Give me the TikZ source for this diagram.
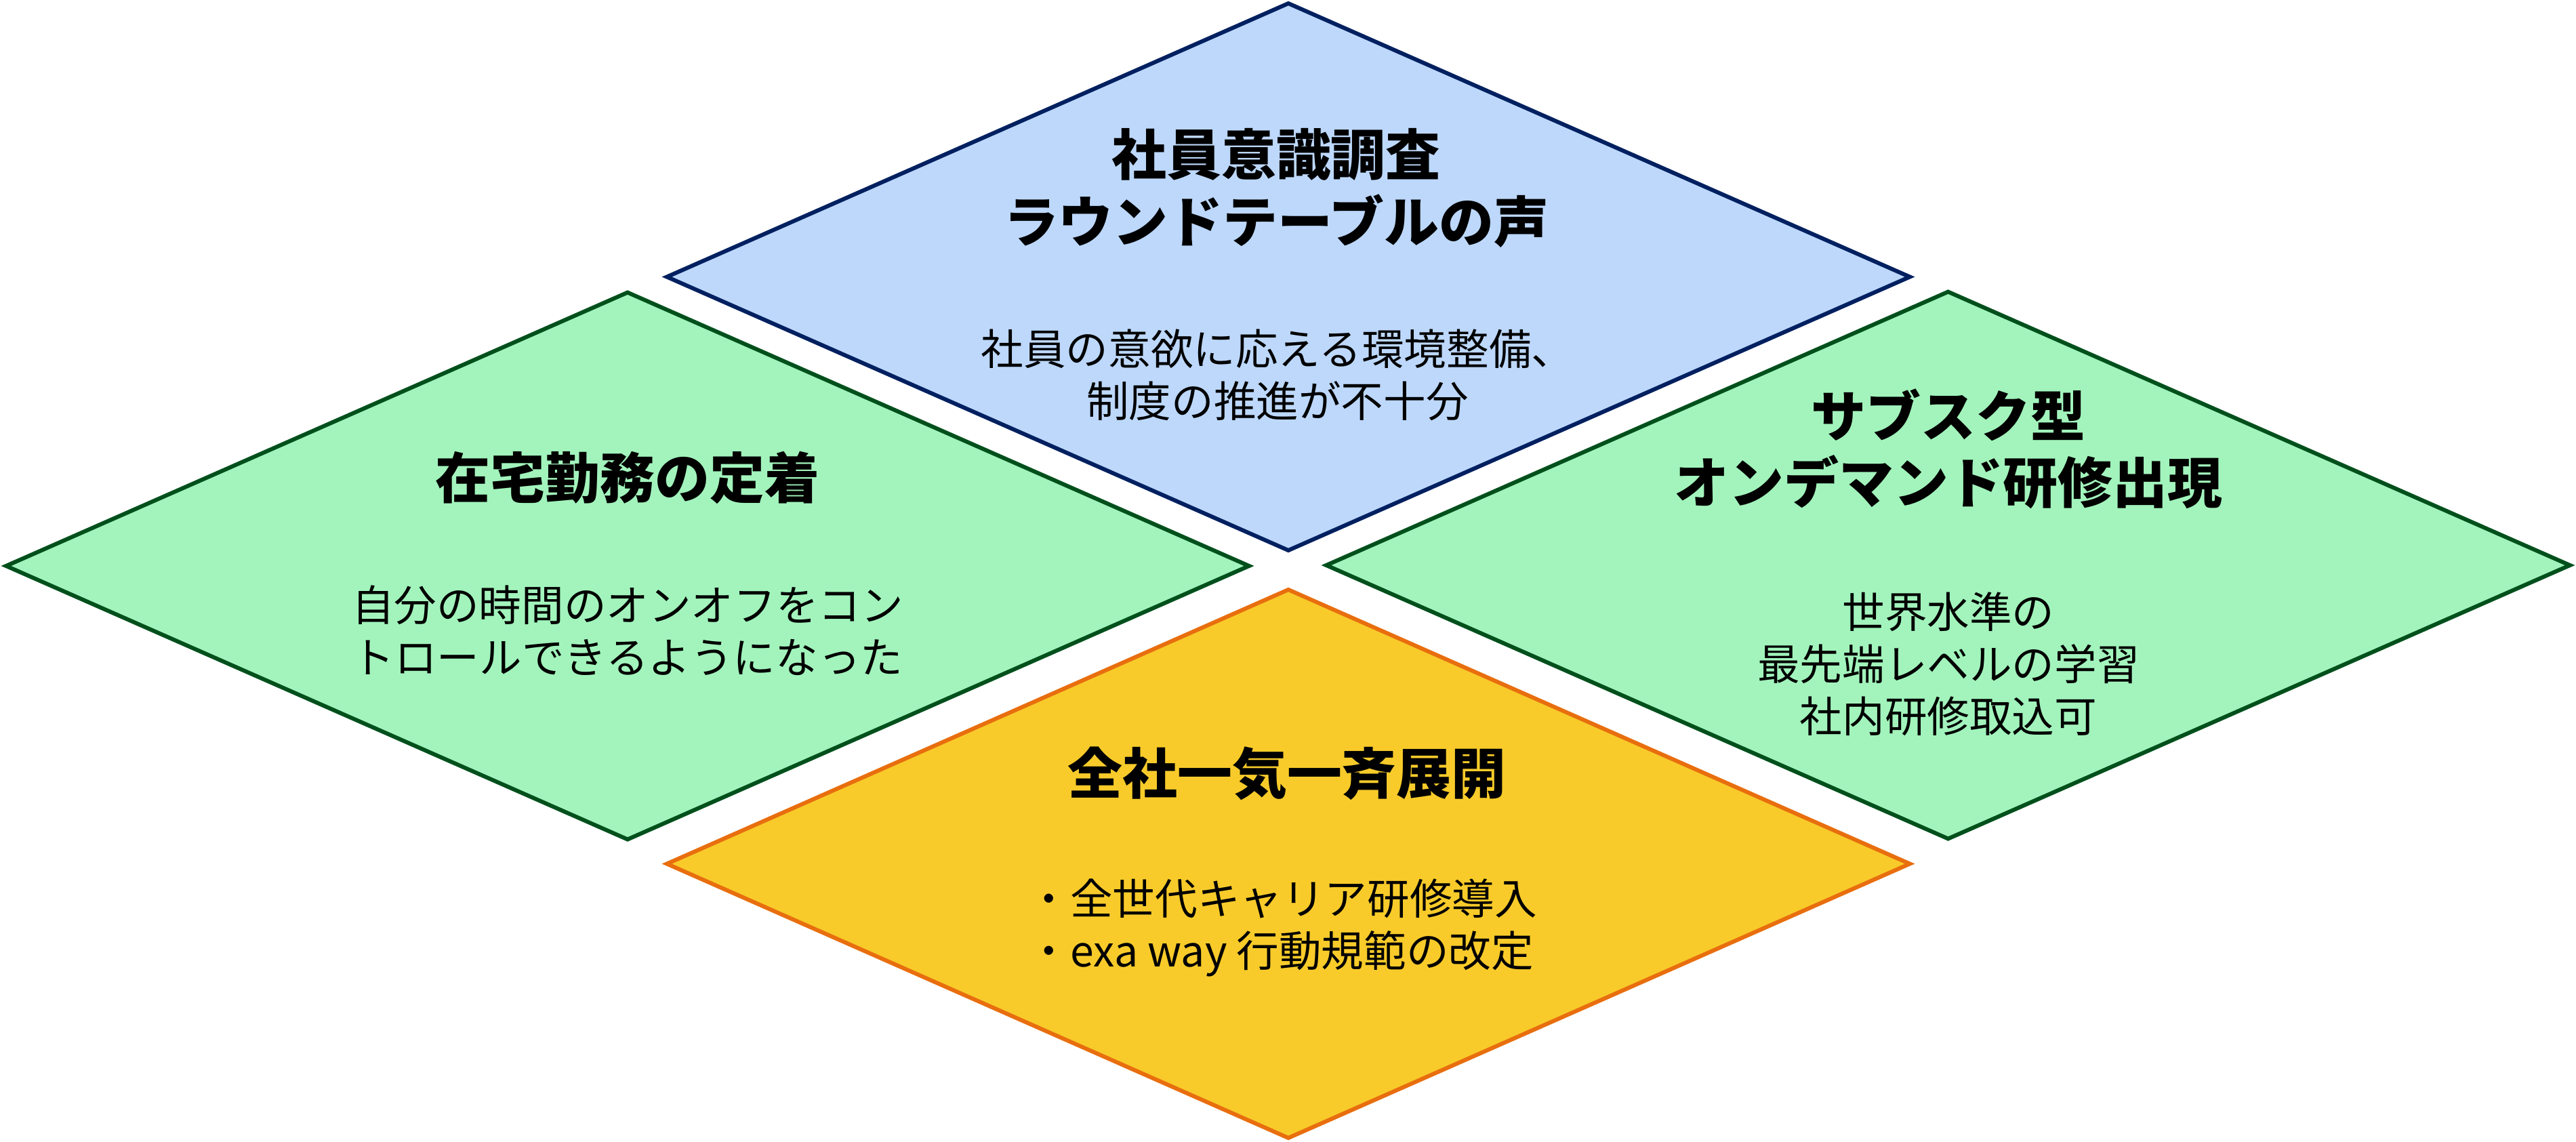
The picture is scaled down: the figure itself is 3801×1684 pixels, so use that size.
\documentclass[tikz,border=0pt]{standalone}
\usepackage{fontspec}
\setmainfont{Noto Sans CJK JP}
\definecolor{bluefill}{RGB}{189,216,251}
\definecolor{blueline}{RGB}{0,32,96}
\definecolor{greenfill}{RGB}{162,244,188}
\definecolor{greenline}{RGB}{0,80,28}
\definecolor{yellowfill}{RGB}{248,203,42}
\definecolor{orangeline}{RGB}{232,110,14}
\begin{document}
\begin{tikzpicture}[x=0.01cm,y=-0.01cm,
  dia/.style={line width=1.7pt, line join=miter},
  ttl/.style={font=\bfseries\fontsize{23pt}{27.9pt}\selectfont, align=center, inner sep=0pt},
  bdy/.style={font=\fontsize{17.8pt}{21.9pt}\selectfont, align=center, inner sep=0pt}]
\useasboundingbox (0,0) rectangle (3801,1684);
% top diamond
\draw[dia, draw=blueline, fill=bluefill] (1901,5) -- (2818,408.5) -- (1901,812) -- (984,408.5) -- cycle;
% left diamond
\draw[dia, draw=greenline, fill=greenfill] (926,431.5) -- (1843,835) -- (926,1238.5) -- (9,835) -- cycle;
% right diamond
\draw[dia, draw=greenline, fill=greenfill] (2874.5,430.5) -- (3792,834) -- (2874.5,1237.5) -- (1957,834) -- cycle;
% bottom diamond
\draw[dia, draw=orangeline, fill=yellowfill] (1901,870) -- (2818,1274.5) -- (1901,1679) -- (984,1274.5) -- cycle;
% texts
\node[ttl] (t1) at (1883,277.5) {社員意識調査\\ラウンドテーブルの声};
\node[bdy] (b1) at (1885,553.5) {社員の意欲に応える環境整備、\\制度の推進が不十分};
\node[ttl] (t2) at (926,705) {在宅勤務の定着};
\node[bdy] (b2) at (926,930) {自分の時間のオンオフをコン\\トロールできるようになった};
\node[ttl] (t3) at (2875,662.5) {サブスク型\\オンデマンド研修出現};
\node[bdy] (b3) at (2875,979.5) {世界水準の\\最先端レベルの学習\\社内研修取込可};
\node[ttl] (t4) at (1899,1141) {全社一気一斉展開};
\node[bdy, align=left, anchor=west] (b4) at (1516,1369) {・全世代キャリア研修導入\\・exa way 行動規範の改定};
\end{tikzpicture}
\end{document}
